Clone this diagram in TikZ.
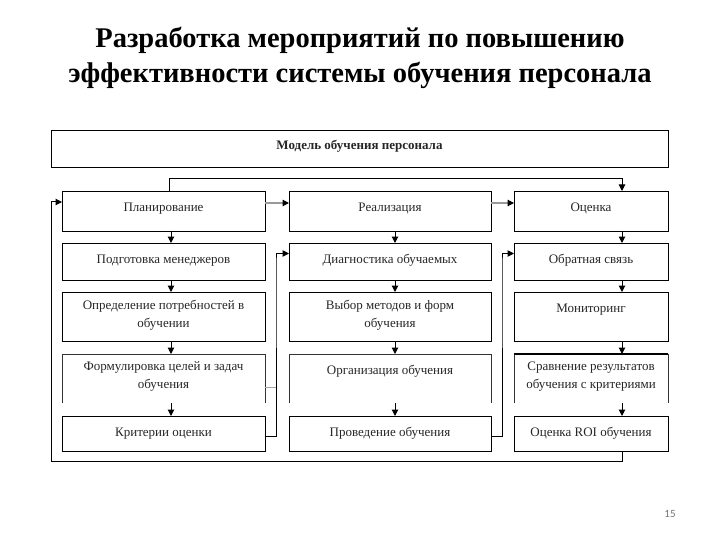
\documentclass[tikz,border=0pt]{standalone}
\usepackage{fontspec}
\setmainfont{Liberation Serif}
\newfontfamily\numfont{Carlito}
\usetikzlibrary{arrows.meta}
\tikzset{
  bx/.style={draw=black, line width=0.9pt, minimum width=#1, inner sep=0pt, outer sep=0pt},
  obx/.style={minimum width=#1, inner sep=0pt, outer sep=0pt},
  lbl/.style={anchor=north, align=center, font=\fontsize{13}{18}\selectfont, text=black!85, inner sep=0pt, yshift=-7.5pt, execute at begin node=\strut},
  arr/.style={line width=1pt, -{Triangle[length=6.5pt,width=6.5pt]}},
  garr/.style={line width=1.2pt, draw=black!40, -{Triangle[length=6.5pt,width=6.5pt,black]}},
  fline/.style={line width=0.9pt, draw=black!80},
}
\begin{document}
\begin{tikzpicture}[x=1pt,y=-1pt]
\useasboundingbox (0,0) rectangle (720,540);
% title
\node (title) at (360,58) [align=center, font=\fontsize{28.5}{35}\selectfont\bfseries] {Разработка мероприятий по повышению\\эффективности системы обучения персонала};
% top box
\node (model) [bx=617pt, minimum height=37pt, anchor=north west, label={[lbl, yshift=1pt, font=\fontsize{13}{18}\selectfont\bfseries]north:Модель обучения персонала}] at (51,130) {};
% coordinates
\coordinate (xL) at (171,0);
\coordinate (xLt) at (169,0);
\coordinate (xM) at (395,0);
\coordinate (xR) at (622,0);
\coordinate (xc1) at (276,0);
\coordinate (xc2) at (502,0);
\coordinate (topy) at (0,179);
\coordinate (bl) at (51,461);
% row 1
\node (b11) [bx=203pt, minimum height=40pt, anchor=north west, label={[lbl]north:Планирование}] at (62,191) {};
\node (b12) [bx=202pt, minimum height=40pt, anchor=north west, label={[lbl]north:Реализация}] at (289,191) {};
\node (b13) [bx=154pt, minimum height=40pt, anchor=north west, label={[lbl]north:Оценка}] at (514,191) {};
% row 2
\node (b21) [bx=203pt, minimum height=37pt, anchor=north west, label={[lbl]north:Подготовка менеджеров}] at (62,243) {};
\node (b22) [bx=202pt, minimum height=37pt, anchor=north west, label={[lbl]north:Диагностика обучаемых}] at (289,243) {};
\node (b23) [bx=154pt, minimum height=37pt, anchor=north west, label={[lbl]north:Обратная связь}] at (514,243) {};
% row 3
\node (b31) [bx=203pt, minimum height=49pt, anchor=north west, label={[lbl]north:Определение потребностей в\\обучении}] at (62,292) {};
\node (b32) [bx=202pt, minimum height=49pt, anchor=north west, label={[lbl]north:Выбор методов и форм\\обучения}] at (289,292) {};
\node (b33) [bx=154pt, minimum height=49pt, anchor=north west, label={[lbl]north:Мониторинг}] at (514,292) {};
% row 4 (open at the bottom)
\node (b41) [obx=203pt, minimum height=49pt, anchor=north west, label={[lbl]north:Формулировка целей и задач\\обучения}] at (62,354) {};
\node (b42) [obx=202pt, minimum height=49pt, anchor=north west, label={[lbl]north:Организация обучения}] at (289,354) {};
\node (b43) [obx=154pt, minimum height=49pt, anchor=north west, label={[lbl]north:Сравнение результатов\\обучения с критериями}] at (514,354) {};
\draw[fline] (b41.south west) -- (b41.north west) -- (b41.north east) -- (b41.south east);
\draw[fline] (b42.south west) -- (b42.north west) -- (b42.north east) -- (b42.south east);
\draw[fline] (b43.south west) -- (b43.north west) (b43.north east) -- (b43.south east);
\draw[line width=1.8pt] (b43.north west) -- (b43.north east);
% row 5
\node (b51) [bx=203pt, minimum height=35pt, anchor=north west, label={[lbl]north:Критерии оценки}] at (62,416) {};
\node (b52) [bx=202pt, minimum height=35pt, anchor=north west, label={[lbl]north:Проведение обучения}] at (289,416) {};
\node (b53) [bx=154pt, minimum height=35pt, anchor=north west, label={[lbl]north:Оценка ROI обучения}] at (514,416) {};
% vertical arrows
\foreach \c/\x in {1/xL,2/xM,3/xR}{
  \draw[arr] (b1\c.south -| \x) -- (b2\c.north -| \x);
  \draw[arr] (b2\c.south -| \x) -- (b3\c.north -| \x);
  \draw[arr] (b3\c.south -| \x) -- (b4\c.north -| \x);
  \draw[arr] (b4\c.south -| \x) -- (b5\c.north -| \x);
}
% horizontal arrows row 1
\draw[garr] ([yshift=8pt]b11.east) -- ([yshift=8pt]b12.west);
\draw[garr] ([yshift=8pt]b12.east) -- ([yshift=8pt]b13.west);
% top connector
\draw[arr] (b11.north -| xLt) |- (topy -| xR) -- (b13.north -| xR);
% feedback loop
\draw[arr] (b53.south -| xR) |- (bl) |- ([yshift=9pt]b11.west);
% cross-column connectors
\draw[arr] ([yshift=-3pt]b51.east) -| (xc1 |- b22.west) |- ([yshift=8pt]b22.west);
\draw[arr] ([yshift=-3pt]b52.east) -| (xc2 |- b23.west) |- ([yshift=8pt]b23.west);
\draw[line width=0.6pt, black!35] ([yshift=-9pt]b41.east) -- ([yshift=-9pt]b41.east -| xc1);
% page number
\node (pg) at (670,514) [font=\numfont\fontsize{11}{12}\selectfont, text=black!55] {15};
\end{tikzpicture}
\end{document}
